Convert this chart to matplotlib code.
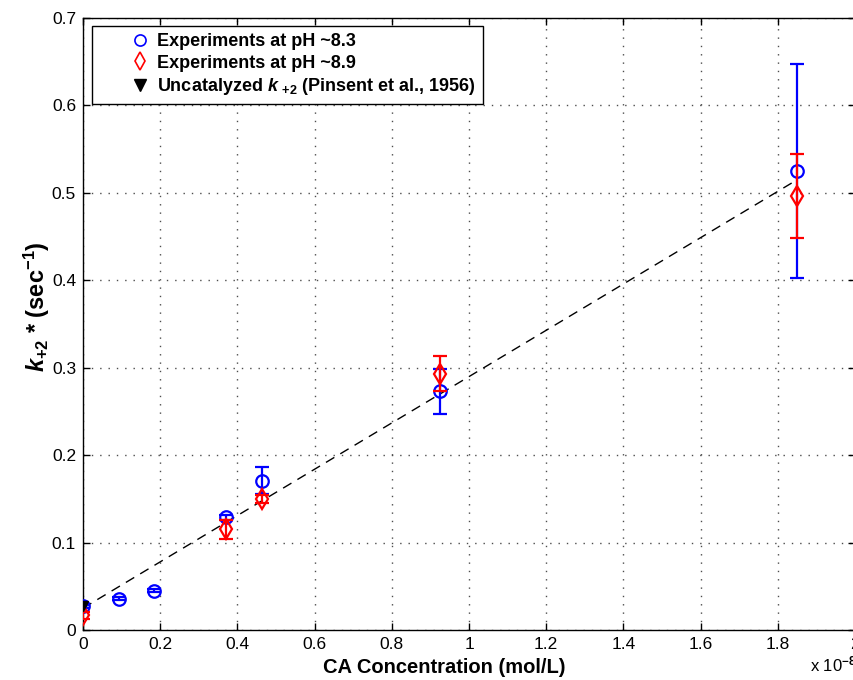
import matplotlib
matplotlib.use('Agg')
import matplotlib.pyplot as plt
from matplotlib.lines import Line2D
from matplotlib.legend_handler import HandlerLine2D

plt.rcParams['font.family'] = ['Liberation Sans', 'DejaVu Sans']
plt.rcParams['mathtext.fontset'] = 'custom'
plt.rcParams['mathtext.rm'] = 'Liberation Sans:bold'
plt.rcParams['mathtext.bf'] = 'Liberation Sans:bold'
plt.rcParams['mathtext.it'] = 'Liberation Sans:italic:bold'

# CA concentration in units of 1e-8 mol/L
xBlue = [0, 0.0925, 0.185, 0.37, 0.4625, 0.925, 1.85]
yBlue = [0.027, 0.036, 0.045, 0.129, 0.171, 0.273, 0.525]
errBlue = [0.002, 0.002, 0.002, 0.003, 0.015, 0.026, 0.122]

xRed = [0, 0.37, 0.4625, 0.925, 1.85]
yRed = [0.017, 0.115, 0.15, 0.293, 0.496]
errRed = [0.004, 0.011, 0.005, 0.02, 0.048]

xUncat = [0]
yUncat = [0.027]

xFit = [0, 1.85]
yFit = [0.025, 0.515]

legendLabels = ['Experiments at pH ~8.3', 'Experiments at pH ~8.9',
                r'Uncatalyzed $k\;_{+2}$ (Pinsent et al., 1956)']

fig = plt.figure(figsize=(8.54, 6.8), dpi=100)
ax = fig.add_axes([0.0972, 0.0735, 0.904, 0.9])

ax.plot(xFit, yFit, color='black', linestyle=(0, (7, 5)), linewidth=1, zorder=2)

ax.errorbar(xBlue, yBlue, yerr=errBlue, fmt='o', color='blue', mfc='none',
            mec='blue', markersize=9, mew=1.6, elinewidth=1.6, capsize=5,
            capthick=1.6, zorder=3)
ax.errorbar(xRed, yRed, yerr=errRed, fmt='d', color='red', mfc='none',
            mec='red', markersize=10, mew=1.6, elinewidth=1.6, capsize=5,
            capthick=1.6, zorder=4)
ax.plot(xUncat, yUncat, 'v', color='black', markersize=7, zorder=5)

# legend entries show markers only
handles = [Line2D([], [], ls='none', marker='o', mfc='none', mec='blue', ms=8, mew=1.2),
           Line2D([], [], ls='none', marker='d', mfc='none', mec='red', ms=9, mew=1.2),
           Line2D([], [], ls='none', marker='v', color='black', ms=8)]

ax.set_xlim(0, 2)
ax.set_ylim(0, 0.7)
ax.set_xticks([0, 0.2, 0.4, 0.6, 0.8, 1, 1.2, 1.4, 1.6, 1.8, 2])
ax.set_xticklabels(['0', '0.2', '0.4', '0.6', '0.8', '1', '1.2', '1.4', '1.6', '1.8', '2'])
ax.set_yticks([0, 0.1, 0.2, 0.3, 0.4, 0.5, 0.6, 0.7])
ax.set_yticklabels(['0', '0.1', '0.2', '0.3', '0.4', '0.5', '0.6', '0.7'])
ax.tick_params(direction='in', top=True, right=True, length=5, labelsize=12.5,
               width=1, pad=5)
ax.grid(True, linestyle=(0, (1, 5)), color='0.3', linewidth=1)
for s in ax.spines.values():
    s.set_linewidth(1)

ax.set_xlabel('CA Concentration (mol/L)', fontsize=14.5, fontweight='bold')
ax.xaxis.set_label_coords(0.4676, -0.045)
ax.set_ylabel(r'$k_{+2}$ * (sec$^{-1}$)', fontsize=17, fontweight='bold')
ax.yaxis.set_label_coords(-0.040, 0.528)

fig.text(0.948, 0.012, r'x 10$^{-8}$', fontsize=12,
         fontdict={'family': 'Liberation Sans'})

leg = ax.legend(handles, legendLabels, loc='upper left',
                bbox_to_anchor=(0.011, 0.987), frameon=True,
                fancybox=False, edgecolor='black', framealpha=1,
                prop={'weight': 'bold', 'size': 13}, borderpad=0.4,
                handletextpad=0.3, labelspacing=0.25, handlelength=2.91,
                borderaxespad=0, handler_map={Line2D: HandlerLine2D(xpad=1.62)})
leg.get_frame().set_linewidth(1)

fig.savefig('out.png', dpi=100)
